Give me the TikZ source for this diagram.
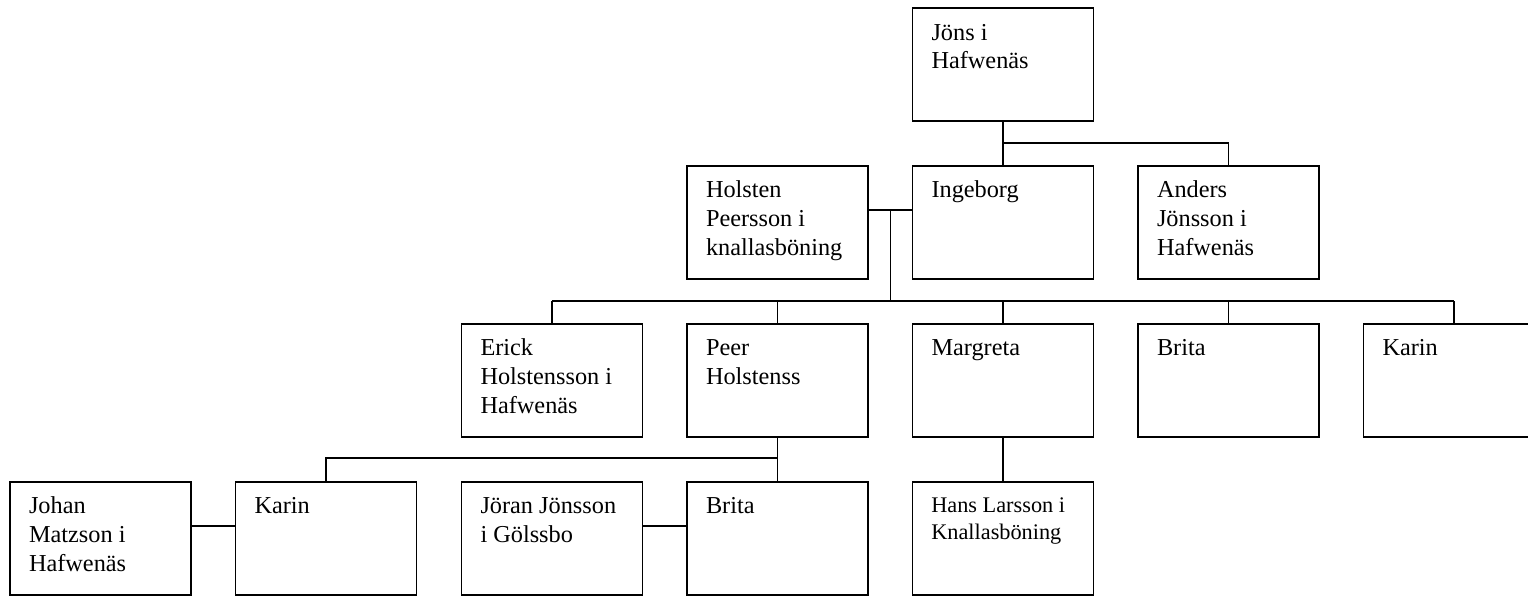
\documentclass[tikz,border=0pt]{standalone}
\usepackage{fontspec}
\setmainfont{Liberation Serif}
\begin{document}
\begin{tikzpicture}[x=1pt,y=-1pt,
  famBox/.style={draw=black,line width=1.8pt,rectangle,inner sep=0pt,minimum width=181pt,minimum height=113pt,anchor=north west},
  famText/.style={anchor=north west,inner sep=0pt,align=left,font={\fontsize{24.3}{28.7}\selectfont}},
  famSmall/.style={anchor=north west,inner sep=0pt,align=left,font={\fontsize{22.3}{26.7}\selectfont}},
  link/.style={draw=black,line width=1.8pt}]
\clip (0,0) rectangle (1528,596);
\fill[white] (0,0) rectangle (1528,596);
% row 1
\node[famBox] (jons) at (911.5,7.5) {};
% row 2
\node[famBox] (holsten) at (686,165) {};
\node[famBox] (ingeborg) at (911.5,165) {};
\node[famBox] (anders) at (1137,165) {};
% row 3
\node[famBox] (erick) at (460.5,323) {};
\node[famBox] (peer) at (686,323) {};
\node[famBox] (margreta) at (911.5,323) {};
\node[famBox] (brita) at (1137,323) {};
\node[famBox] (karin) at (1362.5,323) {};
% row 4
\node[famBox] (johan) at (9,481) {};
\node[famBox] (karintwo) at (234.5,481) {};
\node[famBox] (joran) at (460.5,481) {};
\node[famBox] (britatwo) at (686,481) {};
\node[famBox] (hans) at (911.5,481) {};
% texts
\node[famText] (tjons) at ([xshift=19.8pt,yshift=-12.4pt]jons.north west) {\strut Jöns i\\Hafwenäs};
\node[famText] (tholsten) at ([xshift=19.8pt,yshift=-12.4pt]holsten.north west) {\strut Holsten\\Peersson i\\knallasböning};
\node[famText] (tingeborg) at ([xshift=19.8pt,yshift=-12.4pt]ingeborg.north west) {\strut Ingeborg};
\node[famText] (tanders) at ([xshift=19.8pt,yshift=-12.4pt]anders.north west) {\strut Anders\\Jönsson i\\Hafwenäs};
\node[famText] (terick) at ([xshift=19.8pt,yshift=-12.4pt]erick.north west) {\strut Erick\\Holstensson i\\Hafwenäs};
\node[famText] (tpeer) at ([xshift=19.8pt,yshift=-12.4pt]peer.north west) {\strut Peer\\Holstenss};
\node[famText] (tmargreta) at ([xshift=19.8pt,yshift=-12.4pt]margreta.north west) {\strut Margreta};
\node[famText] (tbrita) at ([xshift=19.8pt,yshift=-12.4pt]brita.north west) {\strut Brita};
\node[famText] (tkarin) at ([xshift=19.8pt,yshift=-12.4pt]karin.north west) {\strut Karin};
\node[famText] (tjohan) at ([xshift=19.8pt,yshift=-12.4pt]johan.north west) {\strut Johan\\Matzson i\\Hafwenäs};
\node[famText] (tkarintwo) at ([xshift=19.8pt,yshift=-12.4pt]karintwo.north west) {\strut Karin};
\node[famText] (tjoran) at ([xshift=19.8pt,yshift=-12.4pt]joran.north west) {\strut Jöran Jönsson\\i Gölssbo};
\node[famText] (tbritatwo) at ([xshift=19.8pt,yshift=-12.4pt]britatwo.north west) {\strut Brita};
\node[famSmall] (thans) at ([xshift=19.6pt,yshift=-13.0pt]hans.north west) {\strut Hans Larsson i\\Knallasböning};
% connectors: Jöns' children
\coordinate (jbar) at (1002,142.7);
\draw[link] (jons.south) -- (ingeborg.north);
\draw[link] (jbar) -| (anders.north);
% Holsten + Ingeborg
\coordinate (hmid) at (890.5,210);
\coordinate (hbar) at (890.5,300.7);
\draw[link] (holsten.east |- hmid) -- (ingeborg.west |- hmid);
\draw[link] (hmid) -- (hbar);
\draw[link] (erick.north |- hbar) -- (karin.north |- hbar);
\foreach \c in {erick,peer,margreta,brita,karin}{
  \draw[link] (\c.north) -- (\c.north |- hbar);
}
% Peer's children
\coordinate (pbar) at (776.5,458.3);
\draw[link] (peer.south) -- (britatwo.north);
\draw[link] (pbar) -| (karintwo.north);
% Margreta - Hans
\draw[link] (margreta.south) -- (hans.north);
% marriages row 4
\draw[link] (johan.east |- 0,526) -- (karintwo.west |- 0,526);
\draw[link] (joran.east |- 0,526) -- (britatwo.west |- 0,526);
\end{tikzpicture}
\end{document}
